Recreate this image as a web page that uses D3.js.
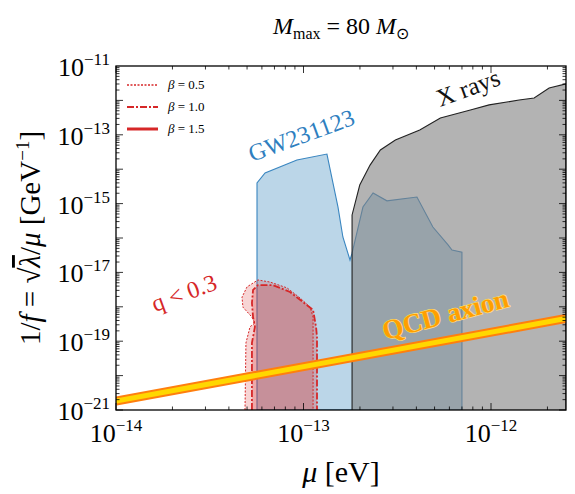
<!DOCTYPE html>
<html><head><meta charset="utf-8">
<script src="https://cdn.jsdelivr.net/npm/d3@7"></script>
<style>body{margin:0;background:#fff}text{font-family:"Liberation Serif",serif}</style>
</head><body><div id="chart"></div>
<script>
// all points are [log10 mu/eV, log10 (1/f)/GeV^-1]
const xrayTop = [[-12.741,-21],[-12.741,-15.33],[-12.70,-14.46],[-12.645,-13.88],[-12.59,-13.44],[-12.51,-13.15],
  [-12.38,-12.86],[-12.27,-12.51],[-12.11,-12.28],[-12.01,-12.13],[-11.85,-11.99],[-11.77,-11.93],[-11.69,-11.64],[-11.6,-11.52],[-11.6,-21]];
const gwRegion = [[-13.248,-21],[-13.248,-14.40],[-13.205,-14.11],[-13.035,-13.73],[-12.875,-13.56],[-12.816,-15.10],
  [-12.79,-15.97],[-12.752,-16.64],[-12.741,-16.44],[-12.683,-15.10],[-12.629,-14.69],[-12.555,-14.92],[-12.395,-14.81],
  [-12.31,-15.68],[-12.229,-16.20],[-12.208,-16.35],[-12.155,-16.41],[-12.155,-21]];
const qBeta05 = [[-13.312,-21],[-13.307,-19.05],[-13.285,-18.58],[-13.259,-18.47],[-13.275,-18.30],[-13.323,-18.01],
  [-13.328,-17.72],[-13.301,-17.42],[-13.243,-17.22],[-13.179,-17.28],[-13.088,-17.45],[-13.019,-17.74],[-12.965,-18.01],
  [-12.949,-18.30],[-12.949,-18.97],[-12.949,-21]];
const qBeta10 = [[-13.275,-21],[-13.275,-19.05],[-13.259,-18.58],[-13.269,-18.30],[-13.275,-17.89],[-13.269,-17.51],
  [-13.243,-17.37],[-13.163,-17.37],[-13.072,-17.57],[-13.003,-17.86],[-12.949,-18.09],[-12.933,-18.59],[-12.928,-18.88],[-12.928,-21]];
const qcdLine = [[-14,-20.74],[-11.6,-18.34]];
const xTicks = [-14,-13,-12];
const yTicks = [-21,-19,-17,-15,-13,-11];
const legendItems = [{b:"0.5",dash:"2,1.5",w:1.3},{b:"1.0",dash:"7,2,2,2",w:1.8},{b:"1.5",dash:null,w:3}];

const W=575,H=494,m={l:116,r:9,t:66,b:84};
const svg=d3.select("#chart").append("svg").attr("width",W).attr("height",H);
const x=d3.scaleLinear().domain([-14,-11.6]).range([m.l,W-m.r]);
const y=d3.scaleLinear().domain([-21,-11]).range([H-m.b,m.t]);
const line=d3.line().x(d=>x(d[0])).y(d=>y(d[1]));
svg.append("clipPath").attr("id","c").append("rect").attr("x",m.l).attr("y",m.t).attr("width",W-m.l-m.r).attr("height",H-m.t-m.b);
const g=svg.append("g").attr("clip-path","url(#c)");

g.append("path").attr("d",line(gwRegion)+"Z").attr("fill","#1f77b4").attr("fill-opacity",0.3).attr("stroke","#3a86c0").attr("stroke-width",1.1);
g.append("path").attr("d",line(xrayTop)).attr("fill","#808080").attr("fill-opacity",0.6).attr("stroke","#222").attr("stroke-width",1.1);
g.append("path").attr("d",line(qBeta05)).attr("fill","#d62728").attr("fill-opacity",0.2).attr("stroke","#d62728").attr("stroke-width",1).attr("stroke-dasharray","2,1.5");
g.append("path").attr("d",line(qBeta10)).attr("fill","#d62728").attr("fill-opacity",0.25).attr("stroke","#d62728").attr("stroke-width",1.8).attr("stroke-dasharray","7,2,2,2");
g.append("path").attr("d",line(qcdLine)).attr("stroke","#ff7f0e").attr("stroke-width",9).attr("fill","none");
g.append("path").attr("d",line(qcdLine)).attr("stroke","#ffd700").attr("stroke-width",5).attr("fill","none");

// axes box and ticks
svg.append("rect").attr("x",m.l).attr("y",m.t).attr("width",W-m.l-m.r).attr("height",H-m.t-m.b).attr("fill","none").attr("stroke","#000").attr("stroke-width",1.3);
const tk=svg.append("g").attr("stroke","#000").attr("stroke-width",0.8);
for(let d=-15;d<=-12;d++)for(let k=1;k<10;k++){const v=d+Math.log10(k);if(v<-14||v>-11.6)continue;
  const L=k==1?7:3.5,px=x(v);
  tk.append("line").attr("x1",px).attr("x2",px).attr("y1",H-m.b).attr("y2",H-m.b-L);
  tk.append("line").attr("x1",px).attr("x2",px).attr("y1",m.t).attr("y2",m.t+L);}
for(let d=-21;d<-11;d++)for(let k=1;k<10;k++){const v=d+Math.log10(k),py=y(v),L=k==1?7:3.5;
  tk.append("line").attr("x1",m.l).attr("x2",m.l+L).attr("y1",py).attr("y2",py);
  tk.append("line").attr("x1",W-m.r).attr("x2",W-m.r-L).attr("y1",py).attr("y2",py);}

const fs=26;
xTicks.forEach(v=>{const t=svg.append("text").attr("x",x(v)).attr("y",H-m.b+32).attr("text-anchor","middle").attr("font-size",fs);
  t.append("tspan").text("10");t.append("tspan").attr("dy",-11).attr("font-size",17).text("−"+(-v));});
yTicks.forEach(v=>{const t=svg.append("text").attr("x",m.l-6).attr("y",y(v)+10).attr("text-anchor","end").attr("font-size",fs);
  t.append("tspan").text("10");t.append("tspan").attr("dy",-11).attr("font-size",17).text("−"+(-v));});

const xl=svg.append("text").attr("x",(m.l+W-m.r)/2).attr("y",H-12).attr("text-anchor","middle").attr("font-size",30);
xl.append("tspan").attr("font-style","italic").text("μ");xl.append("tspan").text(" [eV]");
const yl=svg.append("text").attr("transform",`translate(40,${(m.t+H-m.b)/2}) rotate(-90)`).attr("text-anchor","middle").attr("font-size",29);
yl.append("tspan").text("1/");yl.append("tspan").attr("font-style","italic").text("f");yl.append("tspan").text(" = √");
yl.append("tspan").attr("font-style","italic").attr("text-decoration","overline").text("λ");yl.append("tspan").text("/");
yl.append("tspan").attr("font-style","italic").text("μ");yl.append("tspan").text(" [GeV");yl.append("tspan").attr("dy",-11).attr("font-size",19).text("−1");yl.append("tspan").attr("dy",11).text("]");

const tt=svg.append("text").attr("x",341).attr("y",34).attr("text-anchor","middle").attr("font-size",24);
tt.append("tspan").attr("font-style","italic").text("M");tt.append("tspan").attr("dy",5).attr("font-size",16).text("max");
tt.append("tspan").attr("dy",-5).text(" = 80 ");tt.append("tspan").attr("font-style","italic").text("M");tt.append("tspan").attr("dy",5).attr("font-size",16).text("⊙");

// legend
legendItems.forEach((it,i)=>{const ly=85+i*22;
  svg.append("line").attr("x1",127).attr("x2",158).attr("y1",ly).attr("y2",ly).attr("stroke","#d62728").attr("stroke-width",it.w).attr("stroke-dasharray",it.dash);
  const t=svg.append("text").attr("x",168).attr("y",ly+4).attr("font-size",13);
  t.append("tspan").attr("font-style","italic").text("β");t.append("tspan").text(" = "+it.b);});

// region labels
svg.append("text").attr("transform",`translate(440,107) rotate(-20)`).attr("font-size",25).attr("fill","#111").text("X rays");
svg.append("text").attr("transform",`translate(252,162) rotate(-20)`).attr("font-size",24).attr("fill","#2f7fbf").text("GW231123");
svg.append("text").attr("transform",`translate(155,312) rotate(-20)`).attr("font-size",24).attr("fill","#d62728").text("q < 0.3");
svg.append("text").attr("transform",`translate(385,340) rotate(-15)`).attr("font-size",27).attr("font-weight","bold")
  .attr("fill","#ff9f00").attr("stroke","#ffe27a").attr("stroke-width",1.2).attr("paint-order","stroke").text("QCD axion");
</script></body></html>
